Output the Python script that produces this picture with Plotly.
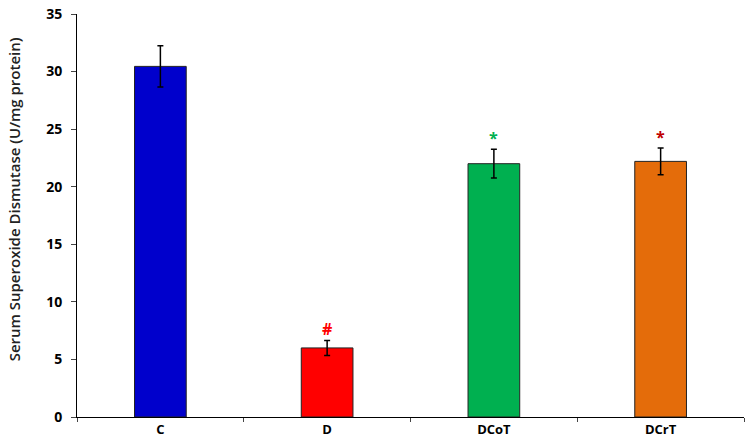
import plotly.graph_objects as go

groups = ["C", "D", "DCoT", "DCrT"]
means = [30.45, 6.0, 22.0, 22.2]
errors = [1.8, 0.65, 1.25, 1.17]
colors = ["#0000CC", "#FF0000", "#00B050", "#E46C0A"]
marks = ["", "#", "*", "*"]
mark_colors = ["black", "#FF0000", "#00B050", "#C00000"]
ytick_vals = [0, 5, 10, 15, 20, 25, 30, 35]
ytitle = "Serum Superoxide Dismutase (U/mg protein)"

fig = go.Figure()
fig.add_trace(go.Bar(
    x=groups, y=means,
    marker=dict(color=colors, line=dict(color="#222222", width=1)),
    error_y=dict(type="data", array=errors, color="black", thickness=1.5, width=3),
    width=0.31,
))

for g, m, e, t, c in zip(groups, means, errors, marks, mark_colors):
    if t:
        fig.add_annotation(x=g, y=m + e, text="<b>%s</b>" % t, showarrow=False,
                           yshift=11, font=dict(color=c, size=16, family="Open Sans"))

fig.add_annotation(x=-0.0945, y=0.54, xref="paper", yref="paper", text=ytitle,
                   textangle=-90, showarrow=False, xanchor="center", yanchor="middle",
                   font=dict(size=15, family="Open Sans", weight=600, color="#222222"))

fig.update_layout(
    width=748, height=447,
    margin=dict(l=77, r=4, t=8, b=30),
    plot_bgcolor="white", paper_bgcolor="white",
    showlegend=False,
    font=dict(family="Open Sans", color="black"),
)
fig.update_xaxes(
    type="category", tickson="boundaries", ticks="outside", ticklen=4,
    showline=True, linecolor="black", linewidth=1, showgrid=False,
    tickfont=dict(size=13, family="Open Sans", weight="bold"),
)
fig.update_yaxes(
    range=[0, 35], tickvals=ytick_vals, ticktext=[str(v) for v in ytick_vals],
    ticks="outside", ticklen=5, ticklabelstandoff=6, ticklabeloverflow="allow",
    showline=True, linecolor="black", linewidth=1, showgrid=False, zeroline=False,
    tickfont=dict(size=14, family="Open Sans", weight="bold"),
)

fig.write_html("out.html")
